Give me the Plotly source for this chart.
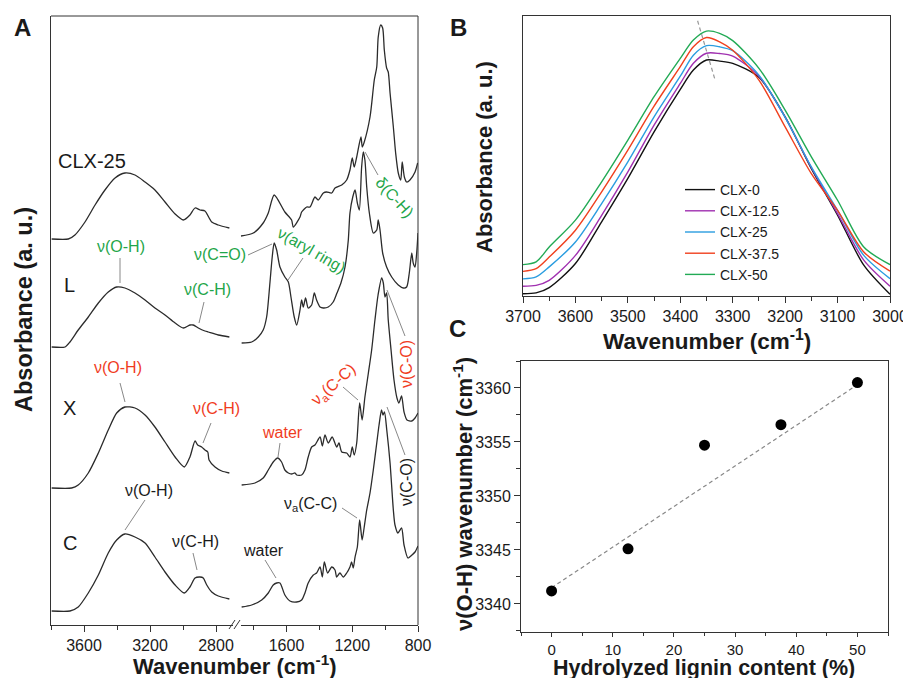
import plotly.graph_objects as go

W, H = 911, 678
OFF = 8  # the page body margin shifts the figure; positions below are in window pixels
FONT = "Liberation Sans, Arial, Helvetica, sans-serif"


def px(x):
    return (x - OFF) / W


def py(y):
    return 1 - (y - OFF) / H

# ---------------- Panel A data (FTIR spectra, offset stacked) ----------------
clx25_hi_wn = [3796, 3695, 3655, 3594, 3533, 3473, 3412, 3352, 3291, 3230, 3170, 3109, 3048, 2998, 2958,
               2927, 2897, 2867, 2826, 2786, 2719]
clx25_hi_abs = [3.86, 3.86, 3.90, 4.03, 4.20, 4.35, 4.47, 4.52, 4.50, 4.43, 4.35, 4.23, 4.11, 4.05, 4.10,
                4.17, 4.15, 4.14, 4.03, 4.00, 3.97]
L_hi_wn = [3796, 3715, 3685, 3635, 3574, 3513, 3453, 3402, 3352, 3291, 3230, 3170, 3109, 3048, 2998, 2958,
           2938, 2907, 2867, 2847, 2786, 2719]
L_hi_abs = [2.78, 2.78, 2.83, 2.95, 3.08, 3.22, 3.33, 3.38, 3.37, 3.32, 3.25, 3.17, 3.10, 3.02, 2.97, 3.00,
            3.00, 2.97, 2.94, 2.93, 2.90, 2.88]
X_hi_wn = [3796, 3675, 3635, 3574, 3513, 3453, 3402, 3352, 3291, 3230, 3170, 3109, 3048, 2992, 2958, 2927,
           2911, 2887, 2867, 2850, 2842, 2806, 2765, 2719]
X_hi_abs = [1.37, 1.37, 1.40, 1.52, 1.72, 1.95, 2.12, 2.18, 2.17, 2.10, 1.98, 1.83, 1.68, 1.58, 1.68, 1.84,
            1.80, 1.78, 1.75, 1.73, 1.65, 1.58, 1.54, 1.52]
C_hi_wn = [3796, 3685, 3635, 3574, 3513, 3453, 3402, 3352, 3291, 3230, 3170, 3109, 3048, 2992, 2958, 2927,
           2897, 2877, 2856, 2826, 2786, 2719]
C_hi_abs = [0.14, 0.14, 0.18, 0.32, 0.50, 0.72, 0.85, 0.91, 0.88, 0.82, 0.68, 0.53, 0.40, 0.32, 0.38, 0.47,
            0.48, 0.47, 0.40, 0.33, 0.29, 0.26]

clx25_lo_wn = [1877, 1802, 1742, 1711, 1675, 1610, 1569, 1559, 1518, 1508, 1477, 1457, 1427, 1407, 1376, 1356,
               1325, 1305, 1264, 1234, 1214, 1200, 1188, 1173, 1147, 1139, 1127, 1092, 1066, 1051, 1042, 1027,
               1015, 1005, 991, 981, 970, 950, 936, 920, 905, 896, 883, 869, 849, 818, 802]
clx25_lo_abs = [3.89, 3.92, 4.02, 4.12, 4.30, 4.13, 4.05, 3.98, 4.08, 4.13, 4.18, 4.18, 4.28, 4.25, 4.32, 4.33,
                4.32, 4.37, 4.40, 4.45, 4.55, 4.67, 4.58, 4.68, 4.88, 4.78, 4.83, 5.08, 5.45, 5.58, 5.88, 6.00,
                5.97, 5.75, 5.57, 5.53, 5.32, 4.98, 4.72, 4.52, 4.45, 4.63, 4.48, 4.43, 4.45, 4.53, 4.62]
L_lo_wn = [1873, 1812, 1772, 1742, 1721, 1701, 1687, 1675, 1660, 1640, 1610, 1589, 1573, 1553, 1538, 1518,
           1508, 1498, 1484, 1468, 1447, 1431, 1417, 1396, 1376, 1346, 1316, 1293, 1269, 1244, 1224, 1214,
           1197, 1183, 1169, 1157, 1143, 1133, 1123, 1112, 1096, 1072, 1051, 1042, 1031, 1015, 991, 960, 920,
           889, 869, 853, 838, 829, 818, 808, 800]
L_lo_abs = [2.82, 2.83, 2.88, 2.95, 3.08, 3.42, 3.68, 3.82, 3.75, 3.58, 3.48, 3.43, 3.28, 3.08, 3.00, 3.15,
            3.25, 3.18, 3.27, 3.17, 3.20, 3.32, 3.25, 3.18, 3.17, 3.18, 3.23, 3.32, 3.42, 3.58, 3.85, 4.12,
            4.28, 4.35, 4.22, 4.15, 4.58, 4.73, 4.65, 4.38, 4.12, 3.92, 3.95, 4.05, 3.95, 3.72, 3.58, 3.48, 3.40,
            3.37, 3.38, 3.52, 3.72, 3.62, 3.58, 3.72, 3.92]
X_lo_wn = [1873, 1792, 1742, 1711, 1681, 1654, 1630, 1610, 1589, 1569, 1549, 1538, 1508, 1488, 1468, 1447,
           1427, 1396, 1382, 1366, 1346, 1322, 1295, 1281, 1264, 1234, 1214, 1200, 1188, 1173, 1155, 1140,
           1123, 1102, 1082, 1062, 1043, 1021, 1011, 1001, 991, 981, 964, 946, 928, 916, 900, 885, 867, 838,
           818, 800]
X_lo_abs = [1.40, 1.42, 1.47, 1.55, 1.63, 1.67, 1.63, 1.55, 1.52, 1.51, 1.52, 1.50, 1.50, 1.55, 1.68, 1.78,
            1.80, 1.88, 1.79, 1.90, 1.82, 1.88, 1.78, 1.82, 1.73, 1.72, 1.68, 1.78, 1.70, 1.82, 2.22, 2.05,
            2.28, 2.52, 2.75, 3.05, 3.30, 3.47, 3.42, 3.28, 3.32, 3.05, 2.75, 2.45, 2.27, 2.22, 2.29, 2.13, 2.05,
            2.04, 2.07, 2.12]
C_lo_wn = [1873, 1812, 1751, 1711, 1681, 1660, 1640, 1610, 1579, 1538, 1508, 1488, 1468, 1437, 1417, 1396,
           1382, 1370, 1350, 1325, 1305, 1295, 1275, 1255, 1234, 1214, 1204, 1194, 1183, 1169, 1155, 1140,
           1128, 1112, 1092, 1072, 1051, 1037, 1022, 1013, 1004, 990, 970, 950, 940, 922, 900, 885, 861, 837,
           818, 800]
C_lo_abs = [0.18, 0.20, 0.25, 0.32, 0.40, 0.42, 0.42, 0.30, 0.24, 0.23, 0.25, 0.32, 0.42, 0.50, 0.52, 0.58,
            0.48, 0.63, 0.52, 0.58, 0.55, 0.48, 0.52, 0.48, 0.52, 0.58, 0.63, 0.57, 0.68, 0.78, 1.05, 0.85,
            0.97, 1.15, 1.32, 1.55, 1.82, 2.00, 2.15, 2.10, 2.13, 1.95, 1.62, 1.15, 1.00, 0.92, 0.97, 0.80, 0.67,
            0.70, 0.73, 0.79]

# ---------------- Panel B data (O-H band) ----------------
oh_wn = [3700, 3675, 3650, 3600, 3550, 3500, 3450, 3400, 3375, 3350, 3325, 3300, 3250, 3200, 3150, 3100, 3050, 3000]
series_names = ["CLX-0", "CLX-12.5", "CLX-25", "CLX-37.5", "CLX-50"]
series_colors = ["#111111", "#a030b0", "#2a9de0", "#f0401e", "#22aa55"]
clx0_abs = [0.008, 0.011, 0.030, 0.116, 0.265, 0.420, 0.586, 0.738, 0.807, 0.843, 0.839, 0.831, 0.781, 0.640, 0.455, 0.289, 0.110, 0.006]
clx125_abs = [0.035, 0.038, 0.056, 0.145, 0.288, 0.443, 0.610, 0.759, 0.831, 0.867, 0.866, 0.857, 0.785, 0.638, 0.458, 0.294, 0.128, 0.035]
clx25_abs = [0.061, 0.068, 0.104, 0.193, 0.330, 0.479, 0.640, 0.785, 0.860, 0.894, 0.890, 0.876, 0.789, 0.638, 0.461, 0.306, 0.145, 0.062]
clx375_abs = [0.088, 0.098, 0.139, 0.235, 0.372, 0.521, 0.678, 0.819, 0.890, 0.923, 0.908, 0.878, 0.771, 0.604, 0.437, 0.306, 0.157, 0.089]
clx50_abs = [0.112, 0.122, 0.175, 0.271, 0.408, 0.557, 0.712, 0.849, 0.914, 0.946, 0.938, 0.912, 0.813, 0.664, 0.497, 0.342, 0.175, 0.112]
peak_guide_wn = [3367, 3334]
peak_guide_abs = [0.983, 0.774]

# ---------------- Panel C data ----------------
lignin_content = [0, 12.5, 25, 37.5, 50]
oh_wavenumber = [3341.2, 3345.1, 3354.7, 3356.6, 3360.5]
fit_x = [0, 50]
fit_y = [3341.5, 3360.3]

fig = go.Figure()
spec_line = dict(color="#2b2b2b", width=1.3, shape="spline", smoothing=0.7)

for wn, ab in [(clx25_hi_wn, clx25_hi_abs), (L_hi_wn, L_hi_abs), (X_hi_wn, X_hi_abs), (C_hi_wn, C_hi_abs)]:
    fig.add_trace(go.Scatter(x=wn, y=ab, mode="lines", line=spec_line, xaxis="x", yaxis="y",
                             showlegend=False, hoverinfo="skip"))
for wn, ab in [(clx25_lo_wn, clx25_lo_abs), (L_lo_wn, L_lo_abs), (X_lo_wn, X_lo_abs), (C_lo_wn, C_lo_abs)]:
    fig.add_trace(go.Scatter(x=wn, y=ab, mode="lines", line=spec_line, xaxis="x2", yaxis="y",
                             showlegend=False, hoverinfo="skip"))

for name, col, ab in zip(series_names, series_colors,
                         [clx0_abs, clx125_abs, clx25_abs, clx375_abs, clx50_abs]):
    fig.add_trace(go.Scatter(x=oh_wn, y=ab, mode="lines", name=name,
                             line=dict(color=col, width=1.4, shape="spline", smoothing=0.8),
                             xaxis="x3", yaxis="y3"))
fig.add_trace(go.Scatter(x=peak_guide_wn, y=peak_guide_abs, mode="lines", showlegend=False,
                         line=dict(color="#999999", width=1.2, dash="4px,3px"), xaxis="x3", yaxis="y3"))

fig.add_trace(go.Scatter(x=fit_x, y=fit_y, mode="lines", showlegend=False,
                         line=dict(color="#888888", width=1.2, dash="4px,3px"), xaxis="x4", yaxis="y4"))
fig.add_trace(go.Scatter(x=lignin_content, y=oh_wavenumber, mode="markers", showlegend=False,
                         marker=dict(color="black", size=11), xaxis="x4", yaxis="y4"))

axis_common = dict(showgrid=False, zeroline=False, linecolor="#333333", linewidth=1, automargin=False,
                   tickfont=dict(family=FONT, size=16, color="#1a1a1a"), ticks="outside",
                   tickcolor="#333333", ticklen=6, tickwidth=1)

fig.update_layout(
    width=W, height=H, margin=dict(l=0, r=0, t=0, b=0, pad=0, autoexpand=False),
    autosize=False,
    paper_bgcolor="white", plot_bgcolor="white",
    font=dict(family=FONT, color="#1a1a1a"),
    xaxis=dict(axis_common, domain=[px(51), px(232.5)], range=[3800, 2700], anchor="y", showline=True,
               tickmode="array", tickvals=[3600, 3200, 2800],
               minor=dict(tickvals=[3800, 3400, 3000], ticklen=4, ticks="outside", tickcolor="#333333")),
    xaxis2=dict(axis_common, domain=[px(240.5), px(418)], range=[1880, 800], anchor="y", showline=True,
                tickmode="array", tickvals=[1600, 1200, 800],
                minor=dict(tickvals=[1800, 1400, 1000], ticklen=4, ticks="outside", tickcolor="#333333")),
    yaxis=dict(showgrid=False, zeroline=False, domain=[py(625), py(16)], range=[0, 6.09], anchor="x",
               automargin=False,
               showline=True, linecolor="#333333", linewidth=1, showticklabels=False, ticks=""),
    xaxis3=dict(axis_common, domain=[px(523), px(890)], range=[3700, 3000], anchor="y3", showline=True,
                mirror=True, tickmode="array", tickvals=[3700, 3600, 3500, 3400, 3300, 3200, 3100, 3000],
                minor=dict(tickvals=[3650, 3550, 3450, 3350, 3250, 3150, 3050], ticklen=4, ticks="outside",
                           tickcolor="#333333")),
    yaxis3=dict(showgrid=False, zeroline=False, domain=[py(296), py(16)], range=[0, 1], anchor="x3",
                automargin=False,
                showline=True, mirror=True, linecolor="#333333", linewidth=1, showticklabels=False, ticks=""),
    xaxis4=dict(axis_common, domain=[px(521), px(888)], range=[-5, 55], anchor="y4", showline=True,
                mirror=True, tickmode="array", tickvals=[0, 10, 20, 30, 40, 50], ticklen=4,
                tickfont=dict(family=FONT, size=15, color="#1a1a1a"),
                minor=dict(tickvals=[-5, 5, 15, 25, 35, 45, 55], ticklen=3, ticks="outside", tickcolor="#333333")),
    yaxis4=dict(axis_common, domain=[py(632), py(361)], range=[3337.4, 3362.5], anchor="x4", showline=True,
                mirror=True, tickmode="array", tickvals=[3340, 3345, 3350, 3355, 3360],
                minor=dict(tickvals=[3337.5, 3342.5, 3347.5, 3352.5, 3357.5, 3362.5], ticklen=4,
                           ticks="outside", tickcolor="#333333")),
    legend=dict(x=px(680), y=py(174), xanchor="left", yanchor="top", bgcolor="rgba(0,0,0,0)",
                font=dict(family=FONT, size=14, color="#1a1a1a"), itemwidth=30, tracegroupgap=0),
)

shapes = []


def seg(x0, y0, x1, y1, color="#888888", width=1):
    shapes.append(dict(type="line", xref="paper", yref="paper", x0=px(x0), y0=py(y0), x1=px(x1), y1=py(y1),
                       line=dict(color=color, width=width)))

# frame of panel A (top + right), break marks
seg(51, 16, 418, 16, "#333333")
seg(418, 16, 418, 625, "#333333")
seg(229, 629, 235, 620, "#333333")
seg(234, 629, 240, 620, "#333333")

# pointer lines
for p in [(120, 258, 120, 283), (204, 302, 199, 323), (248, 255, 272, 244), (303, 258, 288, 280),
          (365, 152, 378, 175), (120, 383, 125, 402), (211, 423, 203, 443), (280, 443, 278, 457),
          (343, 387, 358, 400), (387, 290, 405, 336), (145, 500, 125, 530), (193, 553, 197, 570),
          (265, 560, 276, 578), (342, 508, 357, 518), (387, 407, 405, 455)]:
    seg(*p)

GREEN = "#1fa64a"
RED = "#f03c1e"
BLACK = "#1a1a1a"
ann = []


def txt(t, x, y, size=16, color=BLACK, angle=0):
    ann.append(dict(text=t, x=px(x), y=py(y), xref="paper", yref="paper", showarrow=False,
                    xanchor="center", yanchor="middle", textangle=angle,
                    font=dict(family=FONT, size=size, color=color)))

txt("<b>A</b>", 22, 27, 24)
txt("<b>B</b>", 458, 27, 24)
txt("<b>C</b>", 457, 328, 24)

txt("CLX-25", 92, 161, 20)
txt("L", 70, 285, 20)
txt("X", 70, 408, 20)
txt("C", 70, 543, 20)

txt("ν(O-H)", 121, 247, 16, GREEN)
txt("ν(C-H)", 207, 289, 16, GREEN)
txt("ν(C=O)", 220, 254, 16, GREEN)
txt("ν(aryl ring)", 312, 250, 16, GREEN, 30)
txt("δ(C-H)", 395, 197, 16, GREEN, 48)

txt("ν(O-H)", 117.5, 367, 16, RED)
txt("ν(C-H)", 216, 409, 16, RED)
txt("water", 282, 432, 16, RED)
txt("ν<sub>a</sub>(C-C)", 333, 385, 16, RED, -42)
txt("ν(C-O)", 406, 364, 16, RED, -90)

txt("ν(O-H)", 149, 490, 16)
txt("ν(C-H)", 195, 541, 16)
txt("water", 263, 550, 16)
txt("ν<sub>a</sub>(C-C)", 310, 504, 16)
txt("ν(C-O)", 406, 482, 16, BLACK, -90)

txt("<b>Absorbance (a. u.)</b>", 24, 310, 23.5, BLACK, -90)
txt("<b>Wavenumber (cm<sup>-1</sup>)</b>", 235, 665, 22)
txt("<b>Absorbance (a. u.)</b>", 485, 157, 22, BLACK, -90)
txt("<b>Wavenumber (cm<sup>-1</sup>)</b>", 707, 340, 22.5)
txt("<b>ν(O-H) wavenumber (cm<sup>-1</sup>)</b>", 463, 494, 22, BLACK, -90)
txt("<b>Hydrolyzed lignin content (%)</b>", 704, 667.5, 21.5)

fig.update_layout(shapes=shapes, annotations=ann)
fig.write_html("out.html")
